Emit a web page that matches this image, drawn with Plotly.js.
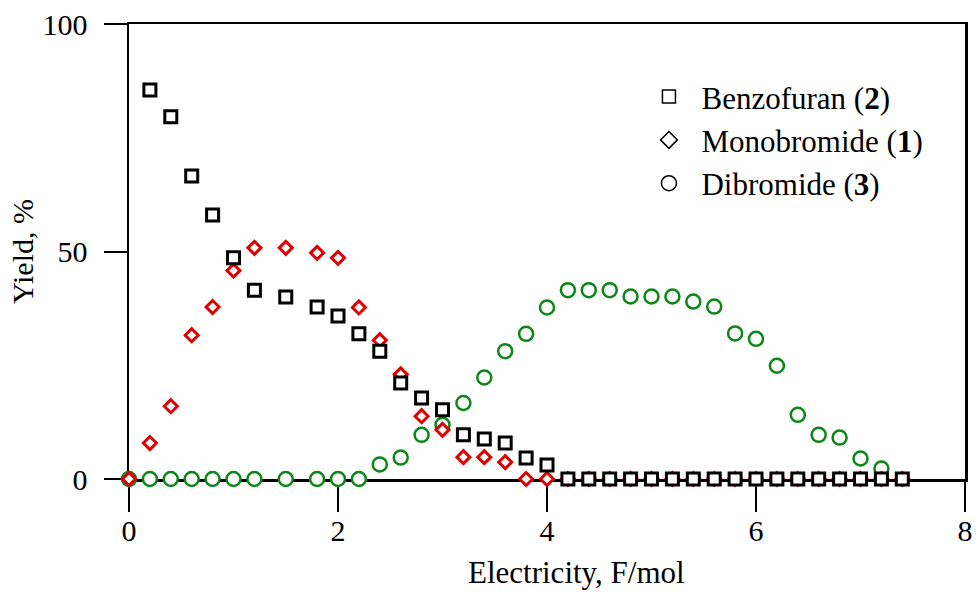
<!DOCTYPE html>
<html>
<head>
<meta charset="utf-8">
<script src="https://cdn.plot.ly/plotly-3.0.1.min.js"></script>
<style>html,body{margin:0;padding:0;background:#fff;}#chart{width:977px;height:592px;}</style>
</head>
<body>
<div id="chart"></div>
<script>
// Electricity (F/mol) and yields (%)
const benzofuranX = [0.2,0.4,0.6,0.8,1.0,1.2,1.5,1.8,2.0,2.2,2.4,2.6,2.8,3.0,3.2,3.4,3.6,3.8,4.0,4.2,4.4,4.6,4.8,5.0,5.2,5.4,5.6,5.8,6.0,6.2,6.4,6.6,6.8,7.0,7.2,7.4];
const benzofuranY = [85.5,79.6,66.6,58,48.6,41.5,40,37.8,35.8,31.9,28.1,21.1,17.8,15.2,9.7,8.8,7.9,4.6,3.1,0,0,0,0,0,0,0,0,0,0,0,0,0,0,0,0,0];

const monobromideX = [0,0.2,0.4,0.6,0.8,1.0,1.2,1.5,1.8,2.0,2.2,2.4,2.6,2.8,3.0,3.2,3.4,3.6,3.8,4.0,4.2,4.4,4.6,4.8,5.0,5.2,5.4,5.6,5.8,6.0,6.2,6.4,6.6,6.8,7.0,7.2,7.4];
const monobromideY = [0,7.9,16,31.6,37.8,45.8,50.8,50.8,49.7,48.6,37.7,30.5,23,13.8,10.8,4.8,4.8,3.7,0,0,0,0,0,0,0,0,0,0,0,0,0,0,0,0,0,0,0];

const dibromideX = [0,0.2,0.4,0.6,0.8,1.0,1.2,1.5,1.8,2.0,2.2,2.4,2.6,2.8,3.0,3.2,3.4,3.6,3.8,4.0,4.2,4.4,4.6,4.8,5.0,5.2,5.4,5.6,5.8,6.0,6.2,6.4,6.6,6.8,7.0,7.2];
const dibromideY = [0,0,0,0,0,0,0,0,0,0,0,3.2,4.7,9.7,11.9,16.7,22.3,28.1,31.9,37.7,41.5,41.5,41.5,40.1,40.1,40.1,39,37.9,32,30.8,24.9,14.1,9.7,9.1,4.5,2.3];

const seriesNames = ['Benzofuran (<b>2</b>)', 'Monobromide (<b>1</b>)', 'Dibromide (<b>3</b>)'];
const xTicks = [0,2,4,6,8];
const yTicks = [0,50,100];
const xTitle = 'Electricity, F/mol';
const yTitle = 'Yield, %';

const FONT = 'Liberation Serif, Times New Roman, serif';
const RED = '#e00000';
const GREEN = '#0c8616';

const traces = [
  {x: dibromideX, y: dibromideY, type:'scatter', mode:'markers', showlegend:false, cliponaxis:false,
   marker:{symbol:'circle', size:14, color:'#fff', line:{color:GREEN, width:2.5}}},
  {x: monobromideX, y: monobromideY, type:'scatter', mode:'markers', showlegend:false, cliponaxis:false,
   marker:{symbol:'diamond', size:10, color:'#fff', line:{color:RED, width:3}}},
  {x: benzofuranX, y: benzofuranY, type:'scatter', mode:'markers', showlegend:false, cliponaxis:false,
   marker:{symbol:'square', size:12, color:'#fff', line:{color:'#000', width:3}}},
  // legend entries (thin black outline symbols)
  {x:[null], y:[null], type:'scatter', mode:'markers', name: seriesNames[0], legendgroup:'a',
   marker:{symbol:'square', size:13, color:'#fff', line:{color:'#000', width:1.5}}},
  {x:[null], y:[null], type:'scatter', mode:'markers', name: seriesNames[1], legendgroup:'b',
   marker:{symbol:'diamond', size:13, color:'#fff', line:{color:'#000', width:1.5}}},
  {x:[null], y:[null], type:'scatter', mode:'markers', name: seriesNames[2], legendgroup:'c',
   marker:{symbol:'circle', size:15, color:'#fff', line:{color:'#000', width:1.5}}}
];

const layout = {
  width: 977, height: 592,
  margin: {l:129, r:12, t:24, b:113, pad:0},
  paper_bgcolor:'#fff', plot_bgcolor:'#fff',
  font: {family: FONT, size: 30, color:'#000'},
  showlegend: true,
  legend: {x:0.607, xanchor:'left', y:0.899, yanchor:'top', bgcolor:'rgba(0,0,0,0)',
           itemwidth:55,
           font:{family:FONT, size:31, color:'#000'}, tracegroupgap: 19, traceorder:'normal'},
  xaxis: {
    range:[0,8], tickvals: xTicks, ticktext: xTicks.map(String),
    showgrid:false, zeroline:false, showline:true, linecolor:'#000', linewidth:2.5, mirror:true,
    ticks:'outside', ticklen:30, tickwidth:2, tickcolor:'#000', layer:'below traces',
    ticklabelstandoff: -7,
    tickfont:{family:FONT, size:30, color:'#000'},
    fixedrange:true
  },
  yaxis: {
    range:[0,100], tickvals: yTicks, ticktext: yTicks.map(String),
    showgrid:false, zeroline:false, showline:true, linecolor:'#000', linewidth:2.5, mirror:true,
    ticks:'outside', ticklen:23, tickwidth:2, tickcolor:'#000', layer:'below traces',
    ticklabelstandoff: 10,
    tickfont:{family:FONT, size:30, color:'#000'},
    title:{text: yTitle, font:{family:FONT, size:30, color:'#000'}, standoff:0},
    fixedrange:true
  },
  annotations: [
    {text: xTitle, xref:'paper', yref:'paper', x:0.535, y:-0.206, xanchor:'center', yanchor:'middle',
     showarrow:false, font:{family:FONT, size:31, color:'#000'}}
  ]
};

Plotly.newPlot('chart', traces, layout, {displayModeBar:false, staticPlot:true});
</script>
</body>
</html>
